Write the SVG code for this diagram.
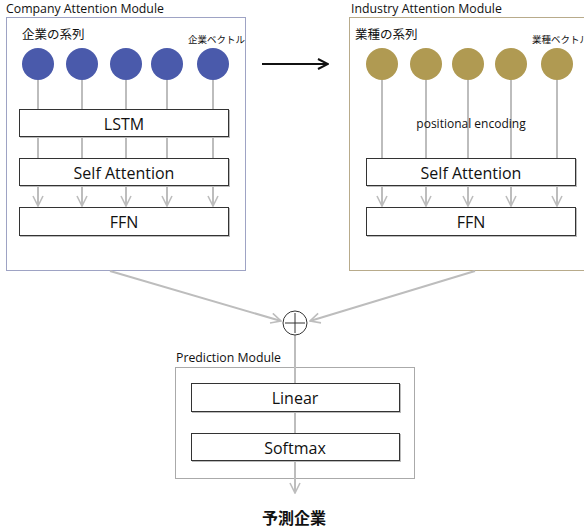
<svg xmlns="http://www.w3.org/2000/svg" width="584" height="531" viewBox="0 0 584 531">
  <defs>
    <style>
      text { font-family: "Open Sans", "Noto Sans", "Noto Sans CJK JP", sans-serif; fill: #111; }
      .title { font-size: 12.3px; }
      .jp { font-family: "Noto Sans CJK JP", sans-serif; font-size: 12.5px; }
      .jps { font-family: "Noto Sans CJK JP", sans-serif; font-size: 9.5px; }
      .boxlabel { font-size: 16px; text-anchor: middle; }
      .layer { fill: #fff; stroke: #333; stroke-width: 1; }
      .shadow { fill: #bbb; }
      .flow { stroke: #bdbdbd; stroke-width: 2; fill: none; }
      .co { fill: #4a5aab; }
      .ind { fill: #b09a52; }
    </style>
    <marker id="vee" viewBox="0 0 12 12" refX="11" refY="6" markerWidth="12" markerHeight="12" markerUnits="userSpaceOnUse" orient="auto">
      <path d="M1,1 L11,6 L1,11" fill="none" stroke="#bdbdbd" stroke-width="1.6"/>
    </marker>
    <marker id="veeDark" viewBox="0 0 12 12" refX="11" refY="6" markerWidth="12" markerHeight="12" markerUnits="userSpaceOnUse" orient="auto">
      <path d="M1,1 L11,6 L1,11" fill="none" stroke="#111" stroke-width="2"/>
    </marker>
  </defs>
  <rect width="584" height="531" fill="#fff"/>

  <!-- module frames -->
  <g id="company-module">
    <text class="title" x="6" y="13">Company Attention Module</text>
    <rect x="6.5" y="17.5" width="239" height="253" fill="#fff" stroke="#9ea3c4" stroke-width="1"/>
    <text class="jp" x="22" y="39">企業の系列</text>
    <text class="jps" x="188" y="43">企業ベクトル</text>
  </g>
  <g id="industry-module">
    <text class="title" x="351" y="13">Industry Attention Module</text>
    <rect x="349.5" y="17.5" width="240" height="253" fill="#fff" stroke="#b8ab8b" stroke-width="1"/>
    <text class="jp" x="355" y="39">業種の系列</text>
    <text class="jps" x="532" y="43">業種ベクトル</text>
  </g>
  <g id="prediction-module">
    <text class="title" x="176" y="362">Prediction Module</text>
    <rect x="175.5" y="367.5" width="239" height="111" fill="#fff" stroke="#aaa" stroke-width="1"/>
  </g>

  <!-- connectors -->
  <g id="connectors">
    <line class="flow" x1="38" y1="80" x2="38" y2="206" marker-end="url(#vee)"/>
    <line class="flow" x1="82" y1="80" x2="82" y2="206" marker-end="url(#vee)"/>
    <line class="flow" x1="126" y1="80" x2="126" y2="206" marker-end="url(#vee)"/>
    <line class="flow" x1="167" y1="80" x2="167" y2="206" marker-end="url(#vee)"/>
    <line class="flow" x1="213" y1="80" x2="213" y2="206" marker-end="url(#vee)"/>
    <line class="flow" x1="382" y1="80" x2="382" y2="206" marker-end="url(#vee)"/>
    <line class="flow" x1="426" y1="80" x2="426" y2="206" marker-end="url(#vee)"/>
    <line class="flow" x1="468" y1="80" x2="468" y2="206" marker-end="url(#vee)"/>
    <line class="flow" x1="511" y1="80" x2="511" y2="206" marker-end="url(#vee)"/>
    <line class="flow" x1="557" y1="80" x2="557" y2="206" marker-end="url(#vee)"/>
    <line x1="262" y1="64" x2="328" y2="64" stroke="#111" stroke-width="2" marker-end="url(#veeDark)"/>
    <line class="flow" x1="110" y1="271" x2="281" y2="321" marker-end="url(#vee)"/>
    <line class="flow" x1="475" y1="271" x2="310" y2="321" marker-end="url(#vee)"/>
    <line class="flow" x1="295" y1="335" x2="295" y2="493" marker-end="url(#vee)"/>
  </g>

  <!-- company sequence -->
  <g id="company-vectors">
    <circle class="co" cx="38" cy="64" r="16"/>
    <circle class="co" cx="82" cy="64" r="16"/>
    <circle class="co" cx="126" cy="64" r="16"/>
    <circle class="co" cx="167" cy="64" r="16"/>
    <circle class="co" cx="213" cy="64" r="16"/>
  </g>
  <g id="industry-vectors">
    <circle class="ind" cx="382" cy="64" r="16"/>
    <circle class="ind" cx="426" cy="64" r="16"/>
    <circle class="ind" cx="468" cy="64" r="16"/>
    <circle class="ind" cx="511" cy="64" r="16"/>
    <circle class="ind" cx="557" cy="64" r="16"/>
  </g>

  <g id="company-lstm">
    <rect class="shadow" x="20" y="110" width="210" height="28"/>
    <rect class="layer" x="19.5" y="109.5" width="209" height="27"/>
    <text class="boxlabel" x="124" y="130">LSTM</text>
  </g>
  <g id="company-self-attention">
    <rect class="shadow" x="20" y="159" width="210" height="28"/>
    <rect class="layer" x="19.5" y="158.5" width="209" height="27"/>
    <text class="boxlabel" x="124" y="179">Self Attention</text>
  </g>
  <g id="company-ffn">
    <rect class="shadow" x="20" y="208" width="210" height="29"/>
    <rect class="layer" x="19.5" y="207.5" width="209" height="28"/>
    <text class="boxlabel" x="124" y="228">FFN</text>
  </g>

  <g id="industry-positional-encoding">
    <text x="471" y="128" font-size="12" text-anchor="middle">positional encoding</text>
  </g>
  <g id="industry-self-attention">
    <rect class="shadow" x="367" y="159" width="210" height="28"/>
    <rect class="layer" x="366.5" y="158.5" width="209" height="27"/>
    <text class="boxlabel" x="471" y="179">Self Attention</text>
  </g>
  <g id="industry-ffn">
    <rect class="shadow" x="367" y="208" width="210" height="29"/>
    <rect class="layer" x="366.5" y="207.5" width="209" height="28"/>
    <text class="boxlabel" x="471" y="228">FFN</text>
  </g>

  <g id="concat">
    <circle cx="295" cy="323" r="12" fill="#fff" stroke="#333" stroke-width="1"/>
    <path d="M285,323 H305 M295,313 V333" stroke="#333" stroke-width="1"/>
  </g>

  <g id="linear">
    <rect class="shadow" x="192" y="384" width="209" height="29"/>
    <rect class="layer" x="191.5" y="383.5" width="208" height="28"/>
    <text class="boxlabel" x="295" y="404">Linear</text>
  </g>
  <g id="softmax">
    <rect class="shadow" x="192" y="434" width="209" height="28"/>
    <rect class="layer" x="191.5" y="433.5" width="208" height="27"/>
    <text class="boxlabel" x="295" y="454">Softmax</text>
  </g>

  <g id="output">
    <text x="294" y="524" font-family="Noto Sans CJK JP, sans-serif" font-size="16" font-weight="bold" text-anchor="middle">予測企業</text>
  </g>
</svg>
